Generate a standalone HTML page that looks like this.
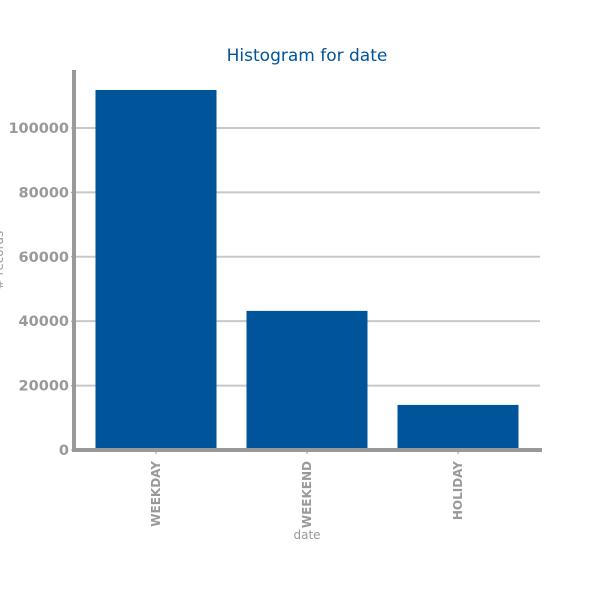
<!DOCTYPE html>
<html><head><meta charset="utf-8"><style>
body{margin:0;background:#fff;width:600px;height:600px;overflow:hidden}
svg text{font-family:"DejaVu Sans","Liberation Sans",sans-serif}
</style></head><body>
<svg id="c" width="600" height="600"></svg>
<script>
const categories = ["WEEKDAY","WEEKEND","HOLIDAY"];
const counts = [111800, 43200, 14000];
const yTicks = [0,20000,40000,60000,80000,100000];
const NS="http://www.w3.org/2000/svg";
const svg=document.getElementById('c');
const L=75,R=540,T=70,B=450,yMax=118000;
const y=v=>B-(v/yMax)*(B-T);
const bandStart=80.5, step=151, bw=121;
const x=i=>bandStart+step*i+step/2;
function mk(tag,attrs,txt){const e=document.createElementNS(NS,tag);for(const k in attrs)e.setAttribute(k,attrs[k]);if(txt!==undefined)e.textContent=txt;svg.appendChild(e);return e;}
let t=mk('text',{x:307,y:61,'text-anchor':'middle','font-size':17,fill:'#00549a'},'Histogram for date');


yTicks.forEach(v=>{
  if(v>0){const g=mk('line',{x1:L,x2:R,y1:y(v),y2:y(v),stroke:'#c8c8c8','stroke-width':2});
  
  }
  const tk=mk('line',{x1:L-4,x2:L,y1:y(v),y2:y(v),stroke:'#999','stroke-width':1});
  
  
  const l=mk('text',{x:L-6,y:y(v)+5,'text-anchor':'end','font-size':14.5,'font-weight':'bold',fill:'#999'},String(v));
  
  
});
categories.forEach((c,i)=>{
  const r=mk('rect',{x:x(i)-bw/2,y:y(counts[i]),width:bw,height:B-y(counts[i]),fill:'#00549a'});
  
  
  const tk=mk('line',{x1:x(i),x2:x(i),y1:B,y2:B+4,stroke:'#999'});
  
  
  const l=mk('text',{x:0,y:0,'text-anchor':'end','font-size':12,'font-weight':'bold',fill:'#999',transform:`translate(${x(i)+4},${B+11}) rotate(-90)`},c);
  
  
});
const ya=mk('line',{x1:L-1,x2:L-1,y1:T,y2:B+2,stroke:'#999','stroke-width':4});


const xa=mk('line',{x1:L-3,x2:R+2,y1:B,y2:B,stroke:'#999','stroke-width':4});


const xt=mk('text',{x:307,y:539,'text-anchor':'middle','font-size':12,fill:'#999'},'date');


const yt=mk('text',{x:0,y:0,'text-anchor':'middle','font-size':12,fill:'#999',transform:'translate(3,260) rotate(-90)'},'# records');


</script>
</body></html>
